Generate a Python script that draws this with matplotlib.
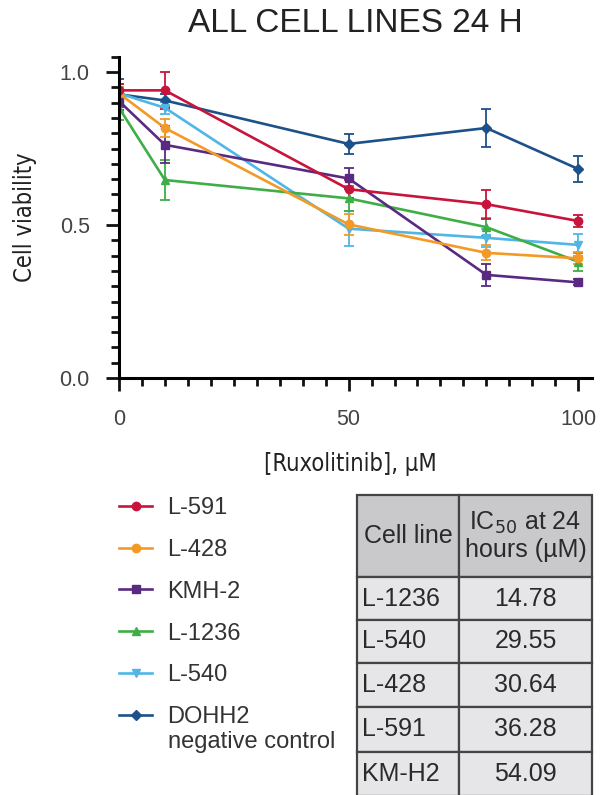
import matplotlib
matplotlib.use("Agg")
import matplotlib.pyplot as plt
from matplotlib.ticker import MultipleLocator, FormatStrFormatter

plt.rcParams["font.family"] = ["Liberation Sans", "DejaVu Sans"]

# ---- data -----------------------------------------------------------------
doses = [0, 10, 50, 80, 100]

l591 = [0.94, 0.94, 0.617, 0.568, 0.513]
l591_err = [0.02, 0.06, 0.03, 0.048, 0.02]
l428 = [0.93, 0.817, 0.502, 0.409, 0.391]
l428_err = [0.02, 0.03, 0.035, 0.025, 0.02]
kmh2 = [0.905, 0.762, 0.652, 0.337, 0.3125]
kmh2_err = [0.02, 0.06, 0.035, 0.035, 0.01]
l1236 = [0.883, 0.647, 0.587, 0.493, 0.38]
l1236_err = [0.04, 0.065, 0.04, 0.03, 0.03]
l540 = [0.93, 0.883, 0.488, 0.458, 0.435]
l540_err = [0.03, 0.02, 0.058, 0.03, 0.035]
dohh2 = [0.927, 0.907, 0.765, 0.817, 0.683]
dohh2_err = [0.05, 0.02, 0.032, 0.063, 0.042]

table_lines = ["L-1236", "L-540", "L-428", "L-591", "KM-H2"]
table_ic50 = ["14.78", "29.55", "30.64", "36.28", "54.09"]

SERIES = [
    ("L-591", l591, l591_err, "#c8143c", "o"),
    ("L-428", l428, l428_err, "#f39a26", "o"),
    ("KMH-2", kmh2, kmh2_err, "#5a2a82", "s"),
    ("L-1236", l1236, l1236_err, "#3fae46", "^"),
    ("L-540", l540, l540_err, "#4fb6e6", "v"),
    ("DOHH2", dohh2, dohh2_err, "#1d5189", "D"),
]

fig = plt.figure(figsize=(6, 7.95), dpi=100)

# ---- main line chart ------------------------------------------------------
# y=0 sits at 378 px, y=1 at 72 px; x=0 at 119 px, x=100 at 578 px
ax = fig.add_axes([119 / 600, 417 / 795, 473 / 600, 321.3 / 795])
handles = []
# DOHH2 first so the cell lines sit on top of it
for name, y, err, color, marker in SERIES[::-1]:
    h = ax.errorbar(doses, y, yerr=err, color=color, marker=marker,
                    markersize=6 if marker != "D" else 5, linewidth=1.9,
                    elinewidth=1.3, capsize=3.5, capthick=1.3, label=name)
    handles.append(h.lines[0])
handles = handles[::-1]

ax.set_xlim(0, 103)
ax.set_ylim(0, 1.05)
ax.xaxis.set_major_locator(MultipleLocator(50))
ax.xaxis.set_minor_locator(MultipleLocator(5))
ax.yaxis.set_major_locator(MultipleLocator(0.5))
ax.yaxis.set_minor_locator(MultipleLocator(0.05))
ax.yaxis.set_major_formatter(FormatStrFormatter("%.1f"))
for s in ("top", "right"):
    ax.spines[s].set_visible(False)
for s in ("left", "bottom"):
    ax.spines[s].set_linewidth(2.2)
ax.tick_params(which="major", length=9.5, width=2.0, labelsize=15.5,
               color="#111111", labelcolor="#444444")
ax.tick_params(which="minor", length=6, width=2.0, color="#111111")
ax.tick_params(axis="x", which="major", pad=12.5)
ax.tick_params(axis="y", which="major", pad=11.5)

lab_font = dict(family="DejaVu Sans", fontstretch="condensed", fontsize=17,
                color="#222222")
ax.set_ylabel("Cell viability", **lab_font)
ax.yaxis.set_label_coords(-0.199, 0.50)
ax.yaxis.label.set_va("center")
ax.set_xlabel("[Ruxolitinib], µM", **lab_font)
ax.xaxis.set_label_coords(0.49, -0.231)
ax.xaxis.label.set_va("top")

fig.text(355 / 600, 1 - 23.5 / 795, "ALL CELL LINES 24 H", ha="center",
         va="center", fontsize=24, color="#222222")

# ---- legend ---------------------------------------------------------------
fig.legend(handles, [s[0] for s in SERIES], loc="upper left",
           bbox_to_anchor=(119 / 600, 1 - 497 / 795), frameon=False,
           fontsize=17, handlelength=1.4, handletextpad=0.65,
           labelspacing=0.84, borderpad=0, borderaxespad=0,
           labelcolor="#333333")
fig.text(168 / 600, 1 - 742 / 795, "negative control", ha="left",
         va="center", fontsize=17, color="#333333")

# ---- IC50 table -----------------------------------------------------------
tax = fig.add_axes([357 / 600, -1 / 795, 235 / 600, 301 / 795])
tax.axis("off")
tbl = tax.table(cellText=[[a, b] for a, b in zip(table_lines, table_ic50)],
                colLabels=["Cell line", "IC$_{50}$ at 24\nhours (µM)"],
                colWidths=[102 / 235, 133 / 235], bbox=[0, 0, 1, 1])
tbl.auto_set_font_size(False)
row_h = [82, 43, 43, 44, 45, 44]
for (r, c), cell in tbl.get_celld().items():
    cell.set_height(row_h[r])
    cell.set_edgecolor("#444444")
    cell.set_linewidth(1.6)
    cell.set_facecolor("#c9c9cb" if r == 0 else "#e6e6e8")
    txt = cell.get_text()
    txt.set_fontsize(18)
    txt.set_color("#2a2a2a")
    if c == 0 and r > 0:
        cell.set_text_props(ha="left")
        cell.PAD = 0.05
    else:
        cell.set_text_props(ha="center")
    if r == 0 and c == 1:
        txt.set_linespacing(1.1)

fig.savefig("out.png", dpi=100, facecolor="white")
